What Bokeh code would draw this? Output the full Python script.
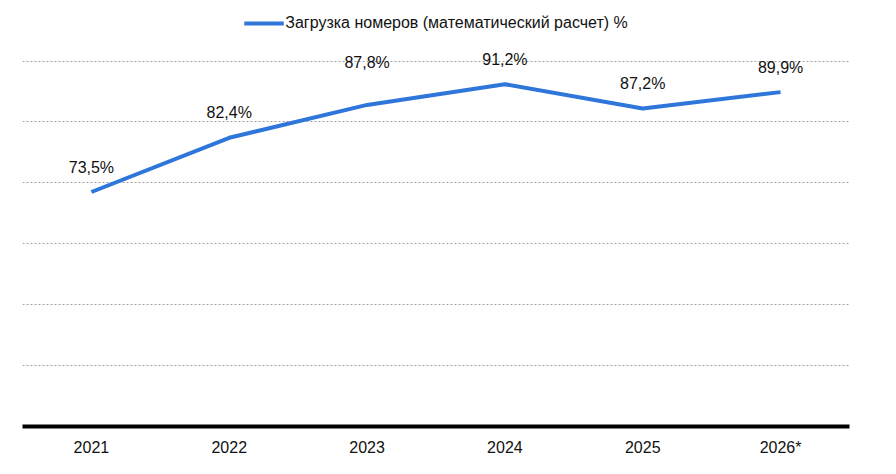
from bokeh.plotting import figure
from bokeh.models import ColumnDataSource, Range1d, FactorRange, FixedTicker, Legend, LegendItem
from bokeh.embed import file_html
from bokeh.resources import INLINE
from bokeh.core.properties import value

# ---- data ----
years = ["2021", "2022", "2023", "2024", "2025", "2026*"]
load_pct = [73.5, 82.4, 87.8, 91.2, 87.2, 89.9]
series_name = "Загрузка номеров (математический расчет) %"
grid_values = [45, 55, 65, 75, 85, 95]

labels = [f"{v:.1f}%".replace(".", ",") for v in load_pct]

# ---- style ----
FONT = "Liberation Sans"
BLUE = "#2E76DA"
label_nudge = [0, 0, -17, 0, 0, 0]   # extra upward shift (px) for crowded labels
base_offset = -25

src = ColumnDataSource(dict(
    x=years, y=load_pct, lab=labels,
    off=[base_offset + n for n in label_nudge],
))

p = figure(
    width=880, height=458,
    x_range=FactorRange(*years, range_padding=0),
    y_range=Range1d(35, 103.63),
    output_backend="svg", toolbar_location=None,
    min_border_left=22, min_border_right=31, min_border_top=8, min_border_bottom=32,
)
p.outline_line_color = None
p.background_fill_color = "white"
p.border_fill_color = "white"

line = p.line("x", "y", source=src, line_color=BLUE, line_width=4, line_join="round")
p.text("x", "y", text="lab", source=src, y_offset="off",
       text_align="center", text_baseline="middle",
       text_font=value(FONT), text_font_size="16px", text_color="#111111")

p.yaxis.visible = False
p.xgrid.visible = False
p.ygrid.ticker = FixedTicker(ticks=grid_values)
p.ygrid.grid_line_color = "#a0a0a0"
p.ygrid.grid_line_dash = "2 2"
p.ygrid.grid_line_width = 1

xa = p.xaxis[0]
xa.axis_line_color = "black"
xa.axis_line_width = 4
xa.major_tick_line_color = None
xa.minor_tick_line_color = None
xa.major_tick_in = 0
xa.major_tick_out = 0
xa.major_label_standoff = 12
xa.major_label_text_font = FONT
xa.major_label_text_font_size = "16px"
xa.major_label_text_color = "#111111"

legend = Legend(items=[LegendItem(label=series_name, renderers=[line])],
                location="top_center", orientation="horizontal",
                glyph_width=40, glyph_height=20, label_height=20,
                label_standoff=2, padding=0, margin=5, spacing=0,
                background_fill_alpha=0, border_line_color=None,
                label_text_font=FONT, label_text_font_size="16px",
                label_text_color="#111111")
p.add_layout(legend)

open("out.html", "w").write(file_html(p, INLINE))
